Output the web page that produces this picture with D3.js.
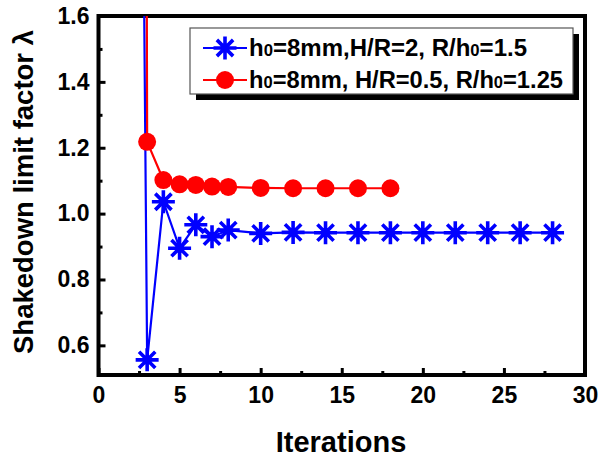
<!DOCTYPE html>
<html>
<head>
<meta charset="utf-8">
<script src="https://cdn.jsdelivr.net/npm/d3@7"></script>
<style>
body { margin: 0; background: #fff; }
text { font-family: "Liberation Sans", Arial, sans-serif; font-weight: bold; }
</style>
</head>
<body>
<script>
// data
var xTicks = [0, 5, 10, 15, 20, 25, 30];
var yTicks = [0.6, 0.8, 1.0, 1.2, 1.4, 1.6];

var blueX = [2, 3, 4, 5, 6, 7, 8, 10, 12, 14, 16, 18, 20, 22, 24, 26, 28];
var blueY = [6.36, 0.556, 1.036, 0.895, 0.966, 0.930, 0.950, 0.940, 0.943, 0.942, 0.942, 0.942, 0.942, 0.942, 0.942, 0.942, 0.942];
var redX = [2, 3, 4, 5, 6, 7, 8, 10, 12, 14, 16, 18];
var redY = [20, 1.218, 1.102, 1.089, 1.087, 1.082, 1.081, 1.078, 1.077, 1.077, 1.077, 1.077];

var blueName = ["h", "0", "=8mm,H/R=2, R/h", "0", "=1.5"];
var redName = ["h", "0", "=8mm, H/R=0.5, R/h", "0", "=1.25"];

var width = 600, height = 459;
var plotLeft = 98.5, plotRight = 585, plotTop = 16, plotBottom = 375;

var svg = d3.select("body").append("svg")
	.attr("width", width)
	.attr("height", height);

var x = d3.scaleLinear().domain([0, 30]).range([plotLeft, plotRight]);
var y = d3.scaleLinear().domain([0.51, 1.6]).range([plotBottom, plotTop]);

svg.append("clipPath").attr("id", "plot")
	.append("rect")
	.attr("x", plotLeft).attr("y", plotTop)
	.attr("width", plotRight - plotLeft).attr("height", plotBottom - plotTop);

// minor + major ticks, pointing inward
var xAxis = svg.append("g").attr("transform", "translate(0," + plotBottom + ")")
	.call(d3.axisBottom(x).tickValues(d3.range(2.5, 30, 5)).tickSize(-4).tickFormat(""));
xAxis.append("g").call(d3.axisBottom(x).tickValues(xTicks).tickSize(-7).tickPadding(12).tickFormat(d3.format("d")));

var yAxis = svg.append("g").attr("transform", "translate(" + plotLeft + ",0)")
	.call(d3.axisLeft(y).tickValues(d3.range(0.7, 1.6, 0.2)).tickSize(-4).tickFormat(""));
yAxis.append("g").call(d3.axisLeft(y).tickValues(yTicks).tickSize(-7).tickPadding(9).tickFormat(d3.format(".1f")));

svg.selectAll(".domain").remove();
svg.selectAll(".tick line").attr("stroke", "#000").attr("stroke-width", 3);
svg.selectAll(".tick text").attr("fill", "#000").style("font-size", "23px");

// frame
svg.append("rect")
	.attr("x", plotLeft).attr("y", plotTop)
	.attr("width", plotRight - plotLeft).attr("height", plotBottom - plotTop)
	.attr("fill", "none").attr("stroke", "#000").attr("stroke-width", 4);

// axis titles
svg.append("text")
	.attr("x", 341).attr("y", 452)
	.attr("text-anchor", "middle")
	.style("font-size", "29px")
	.text("Iterations");

svg.append("text")
	.attr("transform", "translate(33,192) rotate(-90)")
	.attr("text-anchor", "middle")
	.style("font-size", "27.5px")
	.text("Shakedown limit factor λ");

function star(g, size) {
	var r = size;
	var d = r * Math.SQRT1_2;
	g.append("path")
		.attr("d", "M" + -r + ",0L" + r + ",0M0," + -r + "L0," + r +
			"M" + -d + "," + -d + "L" + d + "," + d + "M" + -d + "," + d + "L" + d + "," + -d)
		.attr("stroke", "#0000ff").attr("stroke-width", 3.6).attr("fill", "none");
}

var plot = svg.append("g").attr("clip-path", "url(#plot)");
var line = d3.line().x(function(d){ return x(d[0]); }).y(function(d){ return y(d[1]); });

var blue = blueX.map(function(v, i){ return [v, blueY[i]]; });
var red = redX.map(function(v, i){ return [v, redY[i]]; });

plot.append("path").datum(blue).attr("d", line)
	.attr("fill", "none").attr("stroke", "#0000ff").attr("stroke-width", 2.2);
plot.append("path").datum(red).attr("d", line)
	.attr("fill", "none").attr("stroke", "#ff0000").attr("stroke-width", 2.2);

plot.selectAll(".red").data(red).enter().append("circle")
	.attr("class", "red")
	.attr("cx", function(d){ return x(d[0]); })
	.attr("cy", function(d){ return y(d[1]); })
	.attr("r", 9)
	.attr("fill", "#ff0000");

plot.selectAll(".blue").data(blue).enter().append("g")
	.attr("class", "blue")
	.attr("transform", function(d){ return "translate(" + x(d[0]) + "," + y(d[1]) + ")"; })
	.each(function(){ star(d3.select(this), 11.5); });

// legend with shadow
var lx = 190, ly = 28, lw = 383, lh = 66;
svg.append("rect").attr("x", lx + 6).attr("y", ly + 6).attr("width", lw).attr("height", lh).attr("fill", "#000");
svg.append("rect").attr("x", lx).attr("y", ly).attr("width", lw).attr("height", lh)
	.attr("fill", "#fff").attr("stroke", "#555").attr("stroke-width", 1.2);

function legendRow(yy, color, parts, isStar, len) {
	svg.append("line").attr("x1", 203).attr("x2", 247).attr("y1", yy).attr("y2", yy)
		.attr("stroke", color).attr("stroke-width", 2.2);
	var g = svg.append("g").attr("transform", "translate(225," + yy + ")");
	if (isStar) {
		star(g, 11.5);
	} else {
		g.append("circle").attr("r", 9).attr("fill", color);
	}
	var t = svg.append("text").attr("x", 249).attr("y", yy + 8)
		.attr("textLength", len).attr("lengthAdjust", "spacingAndGlyphs")
		.style("font-size", "23px").attr("fill", "#000");
	parts.forEach(function(p, i){
		t.append("tspan").style("font-size", i % 2 === 1 ? "16px" : "23px").text(p);
	});
}
legendRow(48, "#0000ff", blueName, true, 278);
legendRow(80, "#ff0000", redName, false, 314);
</script>
</body>
</html>
